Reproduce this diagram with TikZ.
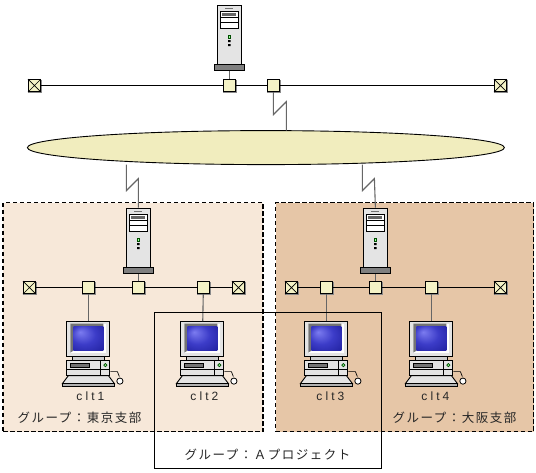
\documentclass[tikz,border=0pt]{standalone}
\usepackage{fontspec}
\usetikzlibrary{shapes.geometric,shapes.misc}
\newfontfamily\jpfont[LetterSpace=12]{Noto Sans CJK JP}
\newfontfamily\cltfont[LetterSpace=26]{Liberation Sans}
\definecolor{hubfill}{HTML}{F4F2C6}
\definecolor{ringfill}{HTML}{F1EDBE}
\definecolor{groupa}{HTML}{F7E8D9}
\definecolor{groupb}{HTML}{E6C6A7}
\definecolor{bodygrey}{HTML}{E4E4E4}
\definecolor{basegrey}{HTML}{7F7F7F}
\definecolor{shadowgrey}{HTML}{8A8A8A}
\definecolor{glowa}{HTML}{7C7CF0}
\definecolor{glowb}{HTML}{3C3CC8}
\definecolor{glowc}{HTML}{14148C}
\pgfdeclareradialshading{screenglow}{\pgfpoint{-14bp}{14bp}}{color(0bp)=(glowa);color(20bp)=(glowb);color(50bp)=(glowc)}
\tikzset{
  x=1pt,y=-1pt,
  hub/.style={draw=black,fill=hubfill,line width=0.9pt,minimum size=12pt,inner sep=0pt,
    append after command={\pgfextra{\draw[shadowgrey,line width=1pt] ([xshift=-6pt,yshift=-7pt]\tikzlastnode.center) -- ([xshift=7pt,yshift=-7pt]\tikzlastnode.center) -- ([xshift=7pt,yshift=6pt]\tikzlastnode.center);}}},
  bus/.style={draw=black,line width=0.9pt},
  stem/.style={draw=black!60,line width=1.1pt},
  wan/.style={draw=black!60,line width=1.1pt,line join=miter},
  groupbox/.style={draw=black,dash pattern=on 4.5pt off 2.5pt,line width=1.3pt},
  projbox/.style={draw=black,line width=0.9pt},
  label/.style={inner sep=0pt,font=\jpfont\fontsize{12.5}{14}\selectfont,text=black!85},
  hostname/.style={inner sep=0pt,font=\cltfont\fontsize{12}{14}\selectfont,text=black!85},
  server/.pic={
    \node[draw=black,fill=bodygrey,line width=0.9pt,minimum width=24pt,minimum height=59pt,inner sep=0pt] (-top) at (0,-30) {};
    \node[draw=black,fill=basegrey,line width=0.8pt,minimum width=30pt,minimum height=5.5pt,inner sep=0pt] (-base) at (0,3) {};
    \draw[black!55,line width=0.8pt] (-4,-56) -- (4,-56);
    \draw[black,fill=white,line width=0.8pt] (-9,-53) rectangle (9,-36);
    \fill[black!60] (-7,-52) rectangle (7,-48.5);
    \draw[black,line width=0.7pt] (-9,-47) -- (9,-47) (-9,-42) -- (9,-42);
    \draw[black!70!green,fill=green!40,line width=0.5pt] (-1.3,-29) rectangle (1.3,-26);
    \fill[black] (-1.3,-24.5) rectangle (1.3,-22.5) (-1.3,-20.5) rectangle (1.3,-18.5);
  },
  computer/.pic={
    \node[draw=black,fill=bodygrey,line width=0.9pt,minimum width=43pt,minimum height=35pt,inner sep=0pt] (-top) at (0,17.5) {};
    \fill[white] (-18,2) rectangle (18,31);
    \fill[black!55] (-18,2) -- (15,2) -- (15,5) -- (-15,5) -- (-15,29) -- (-18,31) -- cycle;
    \shade[shading=screenglow] (-15,5) rectangle (15,29);
    \draw[black,fill=black!20,line width=0.7pt] (-16,35) rectangle (16,39);
    \draw[black,fill=bodygrey,line width=0.9pt] (-21.5,39) rectangle (21.5,53.5);
    \draw[black,line width=0.7pt] (-21.5,48) -- (21.5,48) (12,39) -- (12,53.5);
    \draw[black,fill=black!55,line width=0.6pt] (-18,42) rectangle (1,45.5);
    \draw[black!70!green,fill=green!40,line width=0.7pt] (17,43.5) circle (1.6);
    \draw[black,fill=bodygrey,line width=0.9pt] (-20,54) -- (20,54) -- (26,62) -- (-26,62) -- cycle;
    \draw[black,fill=black!30,line width=0.7pt] (-26,62) rectangle (26,65);
    \draw[black,line width=0.7pt] (22,50) -- (29,50) -- (31,55);
    \draw[black,fill=white,line width=0.8pt] (31.5,59.5) circle (3.1);
  }
}
\begin{document}
\begin{tikzpicture}
\useasboundingbox (0.6,0.4) rectangle (536.6,472.4);
% groups
\node[groupbox,fill=groupa,minimum width=260pt,minimum height=229pt,inner sep=0pt,anchor=north west] (gtokyo) at (3,202.5) {};
\node[groupbox,fill=groupb,minimum width=258pt,minimum height=229pt,inner sep=0pt,anchor=north west] (gosaka) at (275.5,202.5) {};
% WAN cloud
\node[ellipse,draw=black,fill=ringfill,line width=0.9pt,minimum width=477pt,minimum height=34pt,inner sep=0pt] (cloud) at (266.5,148) {};
% top LAN
\node[hub] (h0a) at (230,86) {};
\node[hub] (h0b) at (274,86) {};
\node[hub] (t0a) at (35,86) {};
\node[hub] (t0b) at (501,86) {};
\path[bus] (t0a) edge (h0a) (h0a) edge (h0b) (h0b) edge (t0b);
\foreach \n in {t0a,t0b}{\draw[black,line width=0.7pt] (\n.north west) -- (\n.south east) (\n.north east) -- (\n.south west);}
\pic (s0) at (230,65) {server};
\draw[stem] (s0-base) -- (h0a);
\coordinate (w0) at (287,131);
\draw[wan] (h0b.south) -- (274,115) -- (287,102) -- (w0);
% Tokyo LAN
\node[hub] (h1a) at (89,288) {};
\node[hub] (h1b) at (139,288) {};
\node[hub] (h1c) at (204,288) {};
\node[hub] (t1a) at (30,288) {};
\node[hub] (t1b) at (239,288) {};
\path[bus] (t1a) edge (h1a) (h1a) edge (h1b) (h1b) edge (h1c) (h1c) edge (t1b);
\foreach \n in {t1a,t1b}{\draw[black,line width=0.7pt] (\n.north west) -- (\n.south east) (\n.north east) -- (\n.south west);}
\pic (s1) at (139,268) {server};
\draw[stem] (s1-base) -- (h1b);
\coordinate (w1) at (127,165);
\draw[wan] (w1) -- (127,191) -- (139,179) -- (s1-top.north);
% Osaka LAN
\node[hub] (h2a) at (327,288) {};
\node[hub] (h2b) at (376,288) {};
\node[hub] (h2c) at (432,288) {};
\node[hub] (t2a) at (292,288) {};
\node[hub] (t2b) at (501,288) {};
\path[bus] (t2a) edge (h2a) (h2a) edge (h2b) (h2b) edge (h2c) (h2c) edge (t2b);
\foreach \n in {t2a,t2b}{\draw[black,line width=0.7pt] (\n.north west) -- (\n.south east) (\n.north east) -- (\n.south west);}
\pic (s2) at (376,268) {server};
\draw[stem] (s2-base) -- (h2b);
\coordinate (w2) at (363,165);
\draw[wan] (w2) -- (363,191) -- (375,179) -- (s2-top.north);
% clients
\pic (c1) at (89,322) {computer};
\pic (c2) at (203,322) {computer};
\pic (c3) at (327,322) {computer};
\pic (c4) at (432,322) {computer};
\draw[stem] (h1a) -- (c1-top);
\draw[stem] (h1c) -- (c2-top);
\draw[stem] (h2a) -- (c3-top);
\draw[stem] (h2c) -- (c4-top);
\node[hostname] (n1) at (91,397) {clt1};
\node[hostname] (n2) at (205,397) {clt2};
\node[hostname] (n3) at (331,397) {clt3};
\node[hostname] (n4) at (436,397) {clt4};
\node[label] (l1) at (80,418) {グループ：東京支部};
\node[label] (l2) at (455,418) {グループ：大阪支部};
% project
\node[projbox,minimum width=227pt,minimum height=156pt,inner sep=0pt,anchor=north west] (gproj) at (155,312) {};
\node[label] (l3) at (268,455) {グループ：Ａプロジェクト};
\end{tikzpicture}
\end{document}
